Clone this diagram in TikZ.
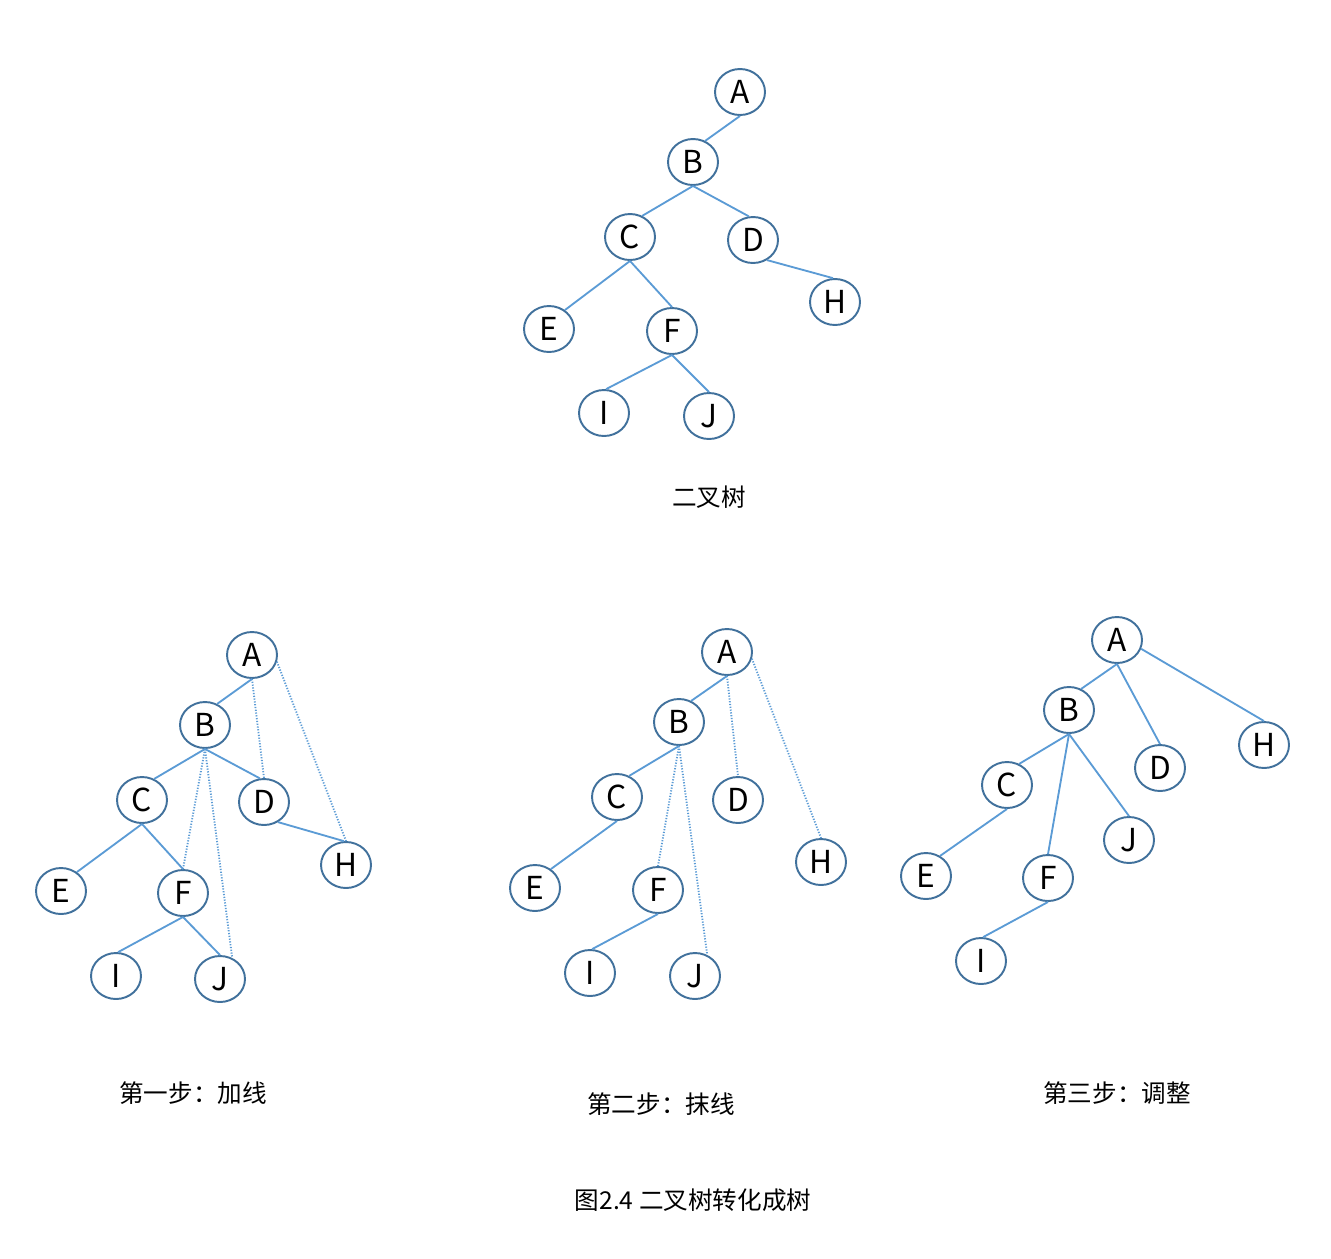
\documentclass[tikz,border=0pt]{standalone}
\usepackage{fontspec}
\setmainfont{Noto Sans CJK SC}
\usetikzlibrary{shapes.geometric}
\definecolor{rim}{HTML}{41719C}
\definecolor{edge}{HTML}{5B9BD5}
\tikzset{
  vert/.style={ellipse, draw=rim, line width=1.1pt, minimum width=1cm,
    minimum height=0.92cm, inner sep=0pt, font=\fontsize{18}{20}\selectfont},
  link/.style={draw=edge, line width=1.05pt},
  added/.style={draw=edge, line width=1.05pt, dash pattern=on 0.7pt off 0.9pt},
  caption/.style={font=\fontsize{14}{16}\selectfont}
}
\begin{document}
\begin{tikzpicture}[x=0.02cm, y=-0.02cm]
  \useasboundingbox (0,0) rectangle (1331,1258);
  % binary tree
  \node[vert] (A0) at (740,92) {A}; \node[vert] (B0) at (693,162) {B};
  \node[vert] (C0) at (630,237) {C}; \node[vert] (D0) at (753,240) {D};
  \node[vert] (H0) at (835,302) {H}; \node[vert] (E0) at (549,329) {E};
  \node[vert] (F0) at (672,331) {F}; \node[vert] (I0) at (604,413) {I};
  \node[vert] (J0) at (709,416) {J};
  \draw[link] (A0.south) -- (B0.60); \draw[link] (B0.south) -- (C0.60);
  \draw[link] (B0.south) -- (D0.100); \draw[link] (C0.south) -- (E0.50);
  \draw[link] (C0.south) -- (F0.north); \draw[link] (D0.-55) -- (H0.95);
  \draw[link] (F0.south) -- (I0.85); \draw[link] (F0.south) -- (J0.north);
  \node[caption] (t0) at (709,497) {二叉树};
  % step 1
  \node[vert] (A1) at (252,655) {A}; \node[vert] (B1) at (205,725) {B};
  \node[vert] (C1) at (142,800) {C}; \node[vert] (D1) at (264,802) {D};
  \node[vert] (H1) at (346,865) {H}; \node[vert] (E1) at (61,891) {E};
  \node[vert] (F1) at (183,893) {F}; \node[vert] (I1) at (116,976) {I};
  \node[vert] (J1) at (220,979) {J};
  \draw[link] (A1.south) -- (B1.60); \draw[link] (B1.south) -- (C1.60);
  \draw[link] (B1.south) -- (D1.100); \draw[link] (C1.south) -- (E1.50);
  \draw[link] (C1.south) -- (F1.north); \draw[link] (D1.-55) -- (H1.95);
  \draw[link] (F1.south) -- (I1.85); \draw[link] (F1.south) -- (J1.north);
  \draw[added] (A1.south) -- (D1.north); \draw[added] (A1.-15) -- (H1.north);
  \draw[added] (B1.south) -- (F1.north); \draw[added] (B1.south) -- (J1.60);
  \node[caption] (t1) at (193,1093) {第一步：加线};
  % step 2
  \node[vert] (A2) at (727,652) {A}; \node[vert] (B2) at (679,722) {B};
  \node[vert] (C2) at (617,797) {C}; \node[vert] (D2) at (738,800) {D};
  \node[vert] (H2) at (821,862) {H}; \node[vert] (E2) at (535,888) {E};
  \node[vert] (F2) at (658,890) {F}; \node[vert] (I2) at (590,973) {I};
  \node[vert] (J2) at (695,976) {J};
  \draw[link] (A2.south) -- (B2.60); \draw[link] (B2.south) -- (C2.60);
  \draw[link] (C2.south) -- (E2.50); \draw[link] (F2.south) -- (I2.85);
  \draw[added] (A2.south) -- (D2.north); \draw[added] (A2.-15) -- (H2.north);
  \draw[added] (B2.south) -- (F2.north); \draw[added] (B2.south) -- (J2.60);
  \node[caption] (t2) at (661,1104) {第二步：抹线};
  % step 3
  \node[vert] (A3) at (1117,640) {A}; \node[vert] (B3) at (1069,710) {B};
  \node[vert] (C3) at (1007,785) {C}; \node[vert] (D3) at (1160,768) {D};
  \node[vert] (H3) at (1264,745) {H}; \node[vert] (J3) at (1129,840) {J};
  \node[vert] (E3) at (926,876) {E}; \node[vert] (F3) at (1048,878) {F};
  \node[vert] (I3) at (981,961) {I};
  \draw[link] (A3.south) -- (B3.60); \draw[link] (A3.south) -- (D3.north);
  \draw[link] (A3.-20) -- (H3.north); \draw[link] (B3.south) -- (C3.60);
  \draw[link] (B3.south) -- (F3.north); \draw[link] (B3.south) -- (J3.north);
  \draw[link] (C3.south) -- (E3.55); \draw[link] (F3.south) -- (I3.85);
  \node[caption] (t3) at (1117,1093) {第三步：调整};
  \node[caption] (fig) at (693,1200) {图2.4 二叉树转化成树};
\end{tikzpicture}
\end{document}
